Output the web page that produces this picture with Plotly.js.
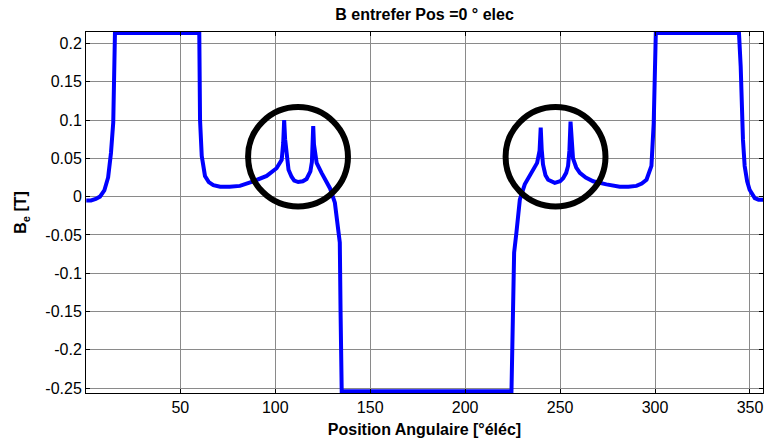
<!DOCTYPE html>
<html>
<head>
<meta charset="utf-8">
<script src="https://cdn.plot.ly/plotly-3.0.1.min.js"></script>
<style>html,body{margin:0;padding:0;background:#fff;}#chart{width:765px;height:441px;}</style>
</head>
<body>
<div id="chart"></div>
<script>
// Position angulaire [°élec]
const posAngle = [0.5, 3, 5.5, 7.7, 10, 12, 13.5, 14.7, 15.6, 60, 60.4, 61.3, 63, 65, 67.4, 71, 76, 81.4, 88.4, 95.5,
  100.7, 103.4, 104.2, 104.7, 105.2, 106, 107, 108.6, 110, 112.1, 114.5, 116.5, 118.5, 119.3, 119.7, 120, 120.4, 121, 121.8,
  124.4, 126.5, 128.8, 131.4, 132.3, 133.2, 134, 134.4, 135, 224.4, 225.3, 225.8, 227, 227.6, 228.8, 231.4, 234, 235.8,
  237.9, 239.2, 239.8, 240.3, 241, 242.3, 243.7, 247.2, 250, 251.6, 253.2, 254.2, 254.9, 255.5, 256, 256.8, 258.5, 260.4,
  263.5, 267.4, 274.4, 281.4, 286, 290.2, 293, 295.5, 298.1, 299.3, 300.4, 344.2, 345.1, 345.5, 346.3, 347.2, 348.5,
  349.8, 351, 352.5, 354.5, 357];
// B entrefer [T]
const bEntrefer = [-0.005, -0.005, -0.003, 0.000, 0.008, 0.025, 0.057, 0.097, 0.2135, 0.2135, 0.100, 0.053, 0.027, 0.019,
  0.015, 0.013, 0.013, 0.014, 0.020, 0.027, 0.037, 0.048, 0.070, 0.100, 0.075, 0.050, 0.035, 0.026, 0.021, 0.019, 0.020,
  0.023, 0.033, 0.045, 0.065, 0.092, 0.068, 0.052, 0.044, 0.031, 0.022, 0.011, -0.008, -0.025, -0.045, -0.060, -0.150,
  -0.254, -0.254, -0.160, -0.073, -0.047, -0.030, -0.004, 0.016, 0.028, 0.035, 0.044, 0.060, 0.090, 0.062, 0.042, 0.028,
  0.022, 0.018, 0.020, 0.024, 0.031, 0.040, 0.060, 0.098, 0.070, 0.050, 0.038, 0.031, 0.025, 0.020, 0.016, 0.013, 0.013,
  0.014, 0.017, 0.022, 0.040, 0.096, 0.2135, 0.2135, 0.170, 0.118, 0.074, 0.040, 0.020, 0.009, 0.003, -0.002, -0.004,
  -0.004];
const xTicks = [50, 100, 150, 200, 250, 300, 350];
const yTicks = [-0.25, -0.2, -0.15, -0.1, -0.05, 0, 0.05, 0.1, 0.15, 0.2];
const yTickLabels = ['-0.25', '-0.2', '-0.15', '-0.1', '-0.05', '0', '0.05', '0.1', '0.15', '0.2'];

const trace = {
  x: posAngle, y: bEntrefer, type: 'scatter', mode: 'lines',
  line: {color: '#0000ff', width: 4}, hoverinfo: 'skip'
};

const FONT = 'Liberation Sans, Arial, sans-serif';
const axisCommon = {
  showline: true, linecolor: '#000', linewidth: 1, mirror: 'ticks',
  ticks: 'inside', ticklen: 4, tickcolor: '#000', tickwidth: 1,
  showgrid: true, gridcolor: '#8a8a8a', gridwidth: 1, zeroline: false,
  tickfont: {family: FONT, size: 16, color: '#000'}
};

const layout = {
  width: 765, height: 441,
  margin: {l: 86, r: 2, t: 32, b: 48},
  paper_bgcolor: '#fff', plot_bgcolor: '#fff',
  showlegend: false,
  title: {
    text: 'B entrefer Pos =0 ° elec',
    font: {family: FONT, size: 16, weight: 'bold', color: '#000'},
    x: 0.555, xanchor: 'center', y: 0.968, yanchor: 'middle'
  },
  xaxis: Object.assign({}, axisCommon, {
    range: [0.35, 356.85], tickvals: xTicks, ticktext: xTicks.map(String),
    title: {text: 'Position Angulaire [°éléc]', standoff: 8,
      font: {family: FONT, size: 16, weight: 'bold', color: '#000'}}
  }),
  yaxis: Object.assign({}, axisCommon, {
    range: [-0.2564, 0.2149], tickvals: yTicks, ticktext: yTickLabels,
    title: {text: 'B<sub>e</sub> [T]', standoff: 14,
      font: {family: FONT, size: 16, weight: 'bold', color: '#000'}}
  }),
  shapes: [
    {type: 'circle', xref: 'x', yref: 'y', x0: 85.7, x1: 138.3, y0: -0.013, y1: 0.117,
      line: {color: '#000', width: 6}},
    {type: 'circle', xref: 'x', yref: 'y', x0: 221.3, x1: 273.9, y0: -0.013, y1: 0.117,
      line: {color: '#000', width: 6}}
  ]
};

Plotly.newPlot('chart', [trace], layout, {staticPlot: true, displayModeBar: false});
</script>
</body>
</html>
